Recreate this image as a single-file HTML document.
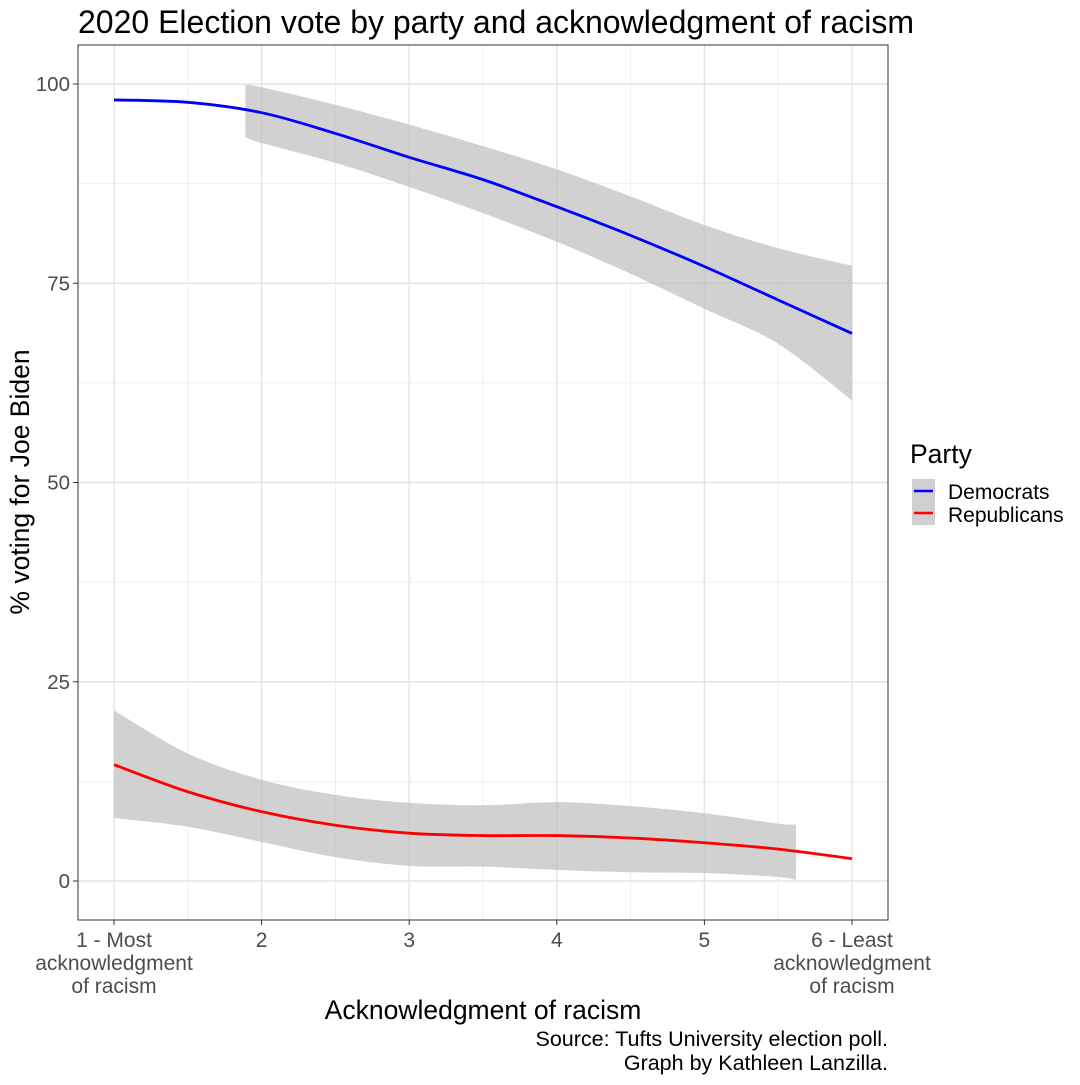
<!DOCTYPE html>
<html><head><meta charset="utf-8"><style>
body{margin:0;background:#fff;}
svg text{font-family:"Liberation Sans",Arial,sans-serif;}
</style></head><body>
<svg id="chart" width="1080" height="1080" xmlns="http://www.w3.org/2000/svg">
<rect width="1080" height="1080" fill="#fff"/>
<text x="78" y="33" font-size="32" fill="#000">2020 Election vote by party and acknowledgment of racism</text>
<g id="grid"></g>
<g id="bands"></g>
<g id="lines"></g>
<rect x="78" y="45" width="810" height="875" fill="none" stroke="#333" stroke-width="1"/>
<g id="axes"></g>
<text x="20" y="482" font-size="26.5" text-anchor="middle" transform="rotate(-90 20 482)" dy="9">% voting for Joe Biden</text>
<text x="483" y="1019" font-size="26.5" text-anchor="middle">Acknowledgment of racism</text>
<text x="888" y="1046" font-size="21.5" text-anchor="end">Source: Tufts University election poll.</text>
<text x="888" y="1070" font-size="21.5" text-anchor="end">Graph by Kathleen Lanzilla.</text>
<g>
<text x="910" y="463" font-size="26.5">Party</text>
<rect x="912" y="479" width="23" height="23" fill="#d0d0d0"/>
<line x1="914" x2="933" y1="491" y2="491" stroke="#0000ff" stroke-width="2.5"/>
<rect x="912" y="502" width="23" height="23" fill="#d0d0d0"/>
<line x1="914" x2="933" y1="513" y2="513" stroke="#ff0000" stroke-width="2.5"/>
<text x="948" y="499" font-size="21">Democrats</text>
<text x="948" y="522" font-size="21">Republicans</text>
</g>
</svg>
<script>
const xVals = [1,1.5,2,2.5,3,3.5,4,4.5,5,5.5,6];
const demLine = [98.0,97.7,96.4,93.8,90.8,88.0,84.6,81.0,77.1,72.9,68.7];
const repLine = [14.6,11.2,8.7,7.0,6.0,5.7,5.7,5.4,4.8,4.0,2.8];
const demBandX = [1.89,2,2.5,3,3.5,4,4.5,5,5.5,6];
const demUpper = [99.9,99.6,97.4,94.9,92.2,89.3,85.9,82.3,79.4,77.2];
const demLower = [93.3,92.6,90.1,87.1,83.8,80.2,76.2,71.8,67.4,60.3];
const repBandX = [1,1.5,2,2.5,3,3.5,4,4.5,5,5.5,5.62];
const repUpper = [21.4,16.0,12.7,10.8,9.8,9.5,9.9,9.4,8.5,7.2,7.1];
const repLower = [7.9,6.8,4.9,3.0,1.9,1.8,1.4,1.1,1.0,0.5,0.1];
const yTicks = [0,25,50,75,100];
const yMinor = [12.5,37.5,62.5,87.5];
const xTicks = [1,2,3,4,5,6];
const xMinor = [1.5,2.5,3.5,4.5,5.5];
const xTickLabels = [["1 - Most","acknowledgment","of racism"],["2"],["3"],["4"],["5"],["6 - Least","acknowledgment","of racism"]];

const X = v => 114 + (v-1)*147.6;
const Y = v => 881 - v*7.97;
const NS = "http://www.w3.org/2000/svg";
function mk(tag, parent, attrs){const e=document.createElementNS(NS,tag);for(const k in attrs)e.setAttribute(k,attrs[k]);document.getElementById(parent).appendChild(e);return e;}
function smooth(pts){ // catmull-rom to bezier
  let d='';
  for(let i=0;i<pts.length-1;i++){
    const p0=pts[Math.max(0,i-1)],p1=pts[i],p2=pts[i+1],p3=pts[Math.min(pts.length-1,i+2)];
    const c1=[p1[0]+(p2[0]-p0[0])/6,p1[1]+(p2[1]-p0[1])/6];
    const c2=[p2[0]-(p3[0]-p1[0])/6,p2[1]-(p3[1]-p1[1])/6];
    d+='C'+c1.join(',')+' '+c2.join(',')+' '+p2.join(',');
  }
  return d;
}

yMinor.forEach(v=>{const e=mk('line','grid',{x1:78,x2:888,y1:Y(v),y2:Y(v),stroke:'#ebebeb','stroke-width':0.8});

});
xMinor.forEach(v=>{const e=mk('line','grid',{x1:X(v),x2:X(v),y1:45,y2:920,stroke:'#ebebeb','stroke-width':0.8});

});
yTicks.forEach(v=>{const e=mk('line','grid',{x1:78,x2:888,y1:Y(v),y2:Y(v),stroke:'#e3e3e3','stroke-width':1.4});


const t=mk('line','axes',{x1:73,x2:78,y1:Y(v),y2:Y(v),stroke:'#333','stroke-width':1});


const l=mk('text','axes',{x:70,y:Y(v)+7,'font-size':20.5,'text-anchor':'end',fill:'#4d4d4d'});l.textContent=v;

});
xTicks.forEach((v,i)=>{const e=mk('line','grid',{x1:X(v),x2:X(v),y1:45,y2:920,stroke:'#e3e3e3','stroke-width':1.4});


const t=mk('line','axes',{x1:X(v),x2:X(v),y1:920,y2:925,stroke:'#333','stroke-width':1});


xTickLabels[i].forEach((s,j)=>{const l=mk('text','axes',{x:X(v),y:947+j*23,'font-size':21,'text-anchor':'middle',fill:'#4d4d4d'});l.textContent=s;

});});

function band(xs,up,lo,name){
  const u=xs.map((x,i)=>[X(x),Y(up[i])]);
  const l=xs.map((x,i)=>[X(x),Y(lo[i])]).reverse();
  const d='M'+u[0].join(',')+smooth(u)+'L'+l[0].join(',')+smooth(l)+'Z';
  const e=mk('path','bands',{d:d,fill:'#bdbdbd','fill-opacity':0.7});
  
  }
band(demBandX,demUpper,demLower,'democrats-confidence-band');
band(repBandX,repUpper,repLower,'republicans-confidence-band');
function line(vals,color,name){const pts=xVals.map((x,i)=>[X(x),Y(vals[i])]);
const e=mk('path','lines',{d:'M'+pts[0].join(',')+smooth(pts),fill:'none',stroke:color,'stroke-width':2.8,'stroke-linejoin':'round'});

}
line(demLine,'#0000ff','democrats-line');
line(repLine,'#ff0000','republicans-line');
</script>
</body></html>
